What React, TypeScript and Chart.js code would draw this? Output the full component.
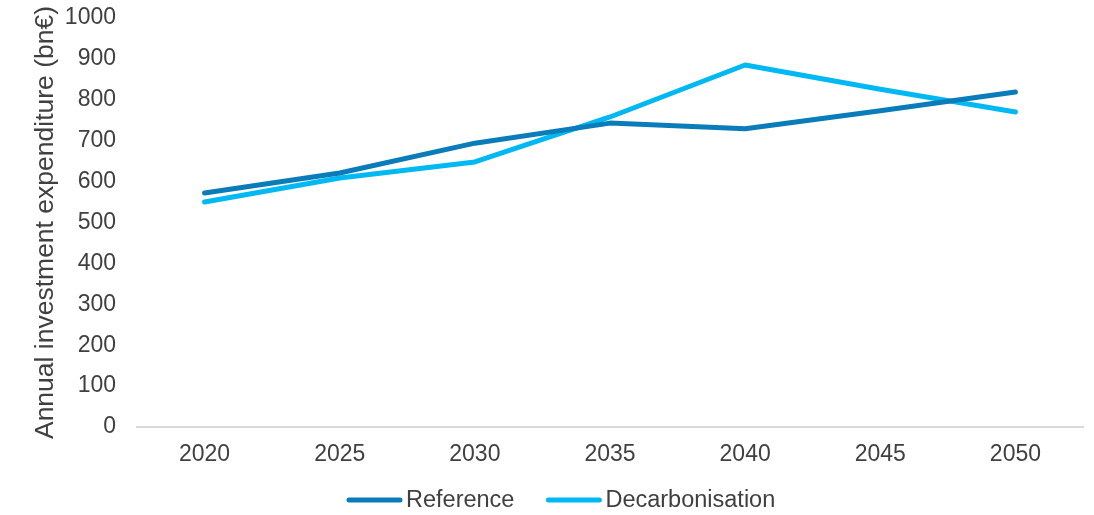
import React, { useEffect, useRef } from "react";
import { Chart, registerables } from "chart.js";

Chart.register(...registerables);

const years = ["2020", "2025", "2030", "2035", "2040", "2045", "2050"];
const referenceValues = [572, 621, 694, 743, 729, 773, 819];
const decarbonisationValues = [550, 609, 648, 758, 885, 826, 770];
const seriesNames = ["Reference", "Decarbonisation"];
const seriesColors = ["#0A7CB9", "#00B9F2"];
const yTitle = "Annual investment expenditure (bn€)";

const FONT = "'Liberation Sans', Arial, sans-serif";
const TEXT = "#404040";

const legendPlugin = {
  id: "customLegend",
  afterDraw(chart: any) {
    const ctx = chart.ctx;
    const y = 500;
    let x = 347;
    ctx.save();
    ctx.font = `23.5px ${FONT}`;
    ctx.textBaseline = "middle";
    ctx.textAlign = "left";
    chart.data.datasets.forEach((ds: any) => {
      ctx.strokeStyle = ds.borderColor;
      ctx.lineWidth = 5;
      ctx.lineCap = "round";
      ctx.beginPath();
      ctx.moveTo(x + 2, y);
      ctx.lineTo(x + 53, y);
      ctx.stroke();
      x += 59;
      ctx.fillStyle = TEXT;
      ctx.fillText(ds.label, x, y + 1);
      x += ctx.measureText(ds.label).width + 32;
    });
    ctx.restore();
  },
};

export default function App() {
  const ref = useRef<HTMLCanvasElement | null>(null);
  useEffect(() => {
    document.body.style.margin = "0";
    const chart = new Chart(ref.current as HTMLCanvasElement, {
      type: "line",
      data: {
        labels: years,
        datasets: [
          {
            label: seriesNames[0],
            data: referenceValues,
            borderColor: seriesColors[0],
            backgroundColor: seriesColors[0],
            borderWidth: 5,
            borderCapStyle: "round",
            borderJoinStyle: "round",
            pointRadius: 0,
            tension: 0,
          },
          {
            label: seriesNames[1],
            data: decarbonisationValues,
            borderColor: seriesColors[1],
            backgroundColor: seriesColors[1],
            borderWidth: 5,
            borderCapStyle: "round",
            borderJoinStyle: "round",
            pointRadius: 0,
            tension: 0,
          },
        ],
      },
      options: {
        animation: false,
        responsive: false,
        maintainAspectRatio: false,
        layout: { padding: { left: 0, right: 11, top: 18, bottom: 48 } },
        plugins: {
          legend: { display: false },
          tooltip: { enabled: false },
        },
        scales: {
          x: {
            offset: true,
            grid: { display: false, drawTicks: false },
            border: { display: true, color: "#D9D9D9", width: 2 },
            ticks: {
              color: TEXT,
              font: { family: FONT, size: 23 },
              padding: 14,
              maxRotation: 0,
            },
            afterFit(scale: any) {
              scale.height = 40;
              scale.paddingLeft = 0;
              scale.paddingRight = 0;
            },
          },
          y: {
            min: 0,
            max: 1000,
            grid: { display: false, drawTicks: false },
            border: { display: false },
            ticks: {
              stepSize: 100,
              color: TEXT,
              font: { family: FONT, size: 23 },
              padding: 21,
              callback: (v: any) => String(v),
            },
            title: {
              display: true,
              text: yTitle,
              color: TEXT,
              font: { family: FONT, size: 26.5 },
              padding: { top: 30, bottom: 0 },
            },
            afterFit(scale: any) {
              scale.width = 137;
              scale.paddingTop = 0;
              scale.paddingBottom = 0;
            },
          },
        },
      },
      plugins: [legendPlugin],
    });
    return () => chart.destroy();
  }, []);
  return (
    <div style={{ width: 1094, height: 515 }}>
      <canvas ref={ref} width={1094} height={515} style={{ display: "block" }} />
    </div>
  );
}
